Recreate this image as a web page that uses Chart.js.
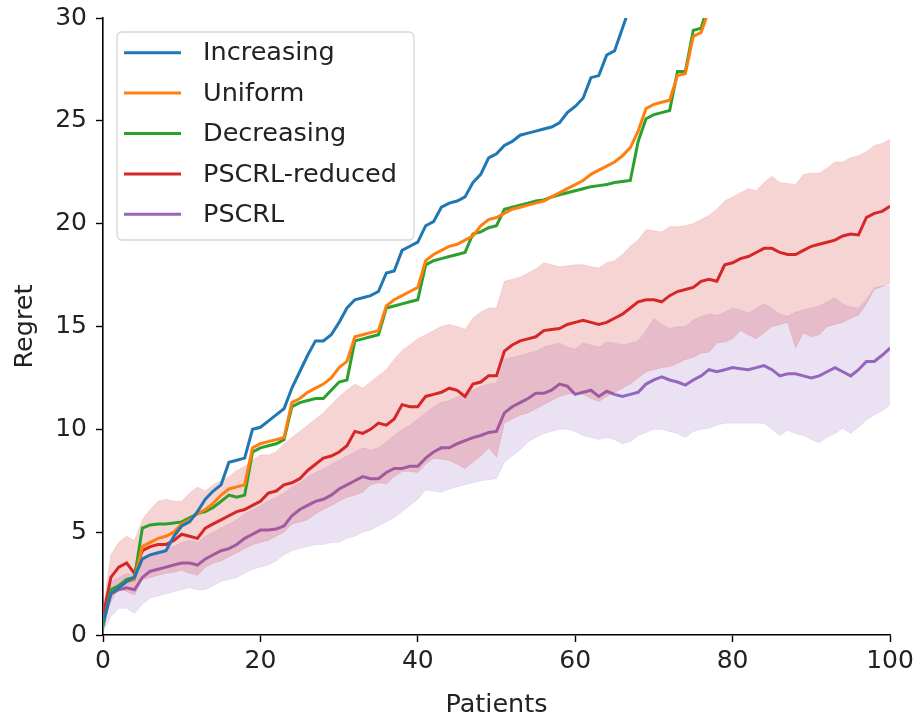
<!DOCTYPE html>
<html>
<head>
<meta charset="utf-8">
<script src="https://cdn.jsdelivr.net/npm/chart.js@4.4.1/dist/chart.umd.min.js"></script>
<style>
  html, body { margin: 0; padding: 0; background: #fff; }
  #wrap { width: 914px; height: 718px; }
</style>
</head>
<body>
<div id="wrap"><canvas id="regretChart" width="914" height="718"></canvas></div>
<script>
// regret per patient (x = 0..100)
const increasing = [0.6, 2.0, 2.3, 2.6, 2.8, 3.7, 3.9, 4.0, 4.1, 4.8, 5.3, 5.5, 6.0, 6.6, 7.0, 7.3, 8.4, 8.5, 8.6, 10.0,
  10.1, 10.4, 10.7, 11.0, 12.0, 12.8, 13.6, 14.3, 14.3, 14.6, 15.2, 15.9, 16.3, 16.4, 16.5, 16.7, 17.6, 17.7, 18.7, 18.9,
  19.1, 19.9, 20.1, 20.8, 21.0, 21.1, 21.3, 22.0, 22.4, 23.2, 23.4, 23.8, 24.0, 24.3, 24.4, 24.5, 24.6, 24.7, 24.9, 25.4,
  25.7, 26.1, 27.1, 27.2, 28.2, 28.4, 29.5, 30.6, 31.5];

const uniform = [0.6, 2.0, 2.3, 2.6, 2.7, 4.3, 4.5, 4.7, 4.8, 5.0, 5.4, 5.6, 5.9, 6.1, 6.4, 6.8, 7.1, 7.2, 7.3, 9.1,
  9.3, 9.4, 9.5, 9.6, 11.3, 11.5, 11.8, 12.0, 12.2, 12.5, 13.0, 13.3, 14.5, 14.6, 14.7, 14.8, 16.0, 16.3, 16.5, 16.7,
  16.9, 18.2, 18.5, 18.7, 18.9, 19.0, 19.2, 19.4, 19.9, 20.2, 20.3, 20.5, 20.7, 20.8, 20.9, 21.0, 21.1, 21.3, 21.5, 21.7,
  21.9, 22.1, 22.4, 22.6, 22.8, 23.0, 23.3, 23.7, 24.5, 25.6, 25.8, 25.9, 26.0, 27.2, 27.3, 29.1, 29.3, 30.4, 31.5];

const decreasing = [0.4, 2.2, 2.4, 2.7, 2.8, 5.2, 5.35, 5.4, 5.4, 5.45, 5.5, 5.7, 5.9, 6.0, 6.2, 6.5, 6.8, 6.7, 6.8, 8.9,
  9.1, 9.2, 9.3, 9.5, 11.1, 11.3, 11.4, 11.5, 11.5, 11.9, 12.3, 12.4, 14.3, 14.4, 14.5, 14.6, 15.9, 16.0, 16.1, 16.2,
  16.3, 18.0, 18.2, 18.3, 18.4, 18.5, 18.6, 19.5, 19.6, 19.8, 19.9, 20.7, 20.8, 20.9, 21.0, 21.1, 21.15, 21.3, 21.4, 21.5,
  21.6, 21.7, 21.8, 21.85, 21.9, 22.0, 22.05, 22.1, 24.0, 25.1, 25.3, 25.4, 25.5, 27.4, 27.4, 29.4, 29.5, 30.8, 32.0];

const pscrlReduced = [0.9, 2.8, 3.3, 3.5, 3.0, 4.1, 4.3, 4.4, 4.4, 4.6, 4.9, 4.8, 4.7, 5.2, 5.4, 5.6, 5.8, 6.0, 6.1, 6.3,
  6.5, 6.9, 7.0, 7.3, 7.4, 7.6, 8.0, 8.3, 8.6, 8.7, 8.9, 9.2, 9.9, 9.8, 10.0, 10.3, 10.2, 10.5, 11.2, 11.1,
  11.1, 11.6, 11.7, 11.8, 12.0, 11.9, 11.6, 12.2, 12.3, 12.6, 12.6, 13.8, 14.1, 14.3, 14.4, 14.5, 14.8, 14.85, 14.9, 15.1,
  15.2, 15.3, 15.2, 15.1, 15.2, 15.4, 15.6, 15.9, 16.2, 16.3, 16.3, 16.2, 16.5, 16.7, 16.8, 16.9, 17.2, 17.3, 17.2, 18.0,
  18.1, 18.3, 18.4, 18.6, 18.8, 18.8, 18.6, 18.5, 18.5, 18.7, 18.9, 19.0, 19.1, 19.2, 19.4, 19.5, 19.45, 20.3, 20.5, 20.6,
  20.85];

const pscrlReducedHigh = [1.2, 3.9, 4.5, 4.8, 4.6, 5.6, 6.1, 6.5, 6.6, 6.5, 6.5, 6.9, 7.2, 7.0, 7.3, 7.5, 7.7, 8.0, 8.2, 8.5,
  8.75, 8.75, 8.9, 9.3, 9.6, 9.9, 10.2, 10.5, 10.8, 11.2, 11.6, 11.9, 12.2, 12.0, 12.3, 12.6, 12.9, 13.4, 13.85, 14.1,
  14.4, 14.6, 14.8, 15.0, 15.1, 15.0, 14.85, 15.4, 15.7, 15.9, 15.9, 17.2, 17.3, 17.4, 17.6, 17.8, 18.1, 18.0, 17.9, 17.95,
  18.0, 18.0, 17.9, 17.85, 18.1, 18.2, 18.5, 18.9, 19.2, 19.7, 19.65, 19.6, 19.85, 19.85, 19.9, 20.0, 20.2, 20.4, 20.7, 21.1,
  21.3, 21.5, 21.7, 21.6, 22.0, 22.3, 22.0, 21.95, 21.9, 22.4, 22.45, 22.45, 22.7, 23.0, 23.0, 23.2, 23.3, 23.5, 23.8, 23.9,
  24.1];

const pscrlReducedLow = [0.5, 1.6, 2.3, 2.1, 1.95, 2.7, 2.8, 2.9, 3.0, 3.05, 3.15, 3.0, 2.9, 3.3, 3.5, 3.6, 3.8, 4.0, 4.2, 4.4,
  4.5, 4.6, 4.8, 5.0, 5.4, 5.5, 5.6, 5.9, 6.1, 6.3, 6.5, 6.7, 6.8, 6.95, 7.3, 7.4, 7.35, 7.7, 7.95, 7.95,
  7.9, 8.3, 8.6, 8.55, 8.5, 8.3, 8.1, 8.4, 8.7, 9.1, 8.65, 10.3, 10.5, 10.7, 10.8, 11.0, 11.2, 11.4, 11.6, 11.7,
  11.75, 11.7, 11.5, 11.35, 11.6, 11.8, 12.0, 12.2, 12.5, 12.8, 12.9, 13.0, 13.05, 13.2, 13.4, 13.5, 13.7, 13.75, 14.2, 14.25,
  14.4, 14.8, 14.6, 14.4, 14.7, 15.0, 15.1, 15.2, 13.95, 14.7, 14.5, 14.6, 15.0, 15.1, 15.2, 15.4, 15.55, 16.1, 16.8, 16.95,
  17.1];

const pscrl = [0.7, 2.0, 2.2, 2.3, 2.2, 2.8, 3.1, 3.2, 3.3, 3.4, 3.5, 3.5, 3.4, 3.7, 3.9, 4.1, 4.2, 4.4, 4.7, 4.9,
  5.1, 5.1, 5.15, 5.3, 5.8, 6.1, 6.3, 6.5, 6.6, 6.8, 7.1, 7.3, 7.5, 7.7, 7.6, 7.6, 7.9, 8.1, 8.1, 8.2,
  8.2, 8.6, 8.9, 9.1, 9.1, 9.3, 9.45, 9.6, 9.7, 9.85, 9.9, 10.8, 11.1, 11.3, 11.5, 11.75, 11.75, 11.9, 12.2, 12.1,
  11.7, 11.8, 11.9, 11.6, 11.85, 11.7, 11.6, 11.7, 11.8, 12.2, 12.4, 12.55, 12.4, 12.3, 12.15, 12.4, 12.6, 12.9, 12.8, 12.9,
  13.0, 12.95, 12.9, 13.0, 13.1, 12.9, 12.6, 12.7, 12.7, 12.6, 12.5, 12.6, 12.8, 13.0, 12.8, 12.6, 12.9, 13.3, 13.3, 13.6,
  13.95];

const pscrlHigh = [1.0, 2.6, 2.8, 3.0, 2.9, 3.6, 3.9, 4.0, 4.2, 4.3, 4.5, 4.6, 4.5, 4.8, 5.0, 5.2, 5.4, 5.6, 5.9, 6.1,
  6.3, 6.5, 6.7, 6.9, 7.2, 7.4, 7.7, 7.9, 8.1, 8.3, 8.5, 8.7, 8.9, 9.1, 9.0, 9.1, 9.4, 9.7, 10.0, 10.2,
  10.5, 10.8, 11.1, 11.3, 11.4, 11.6, 11.7, 11.9, 12.1, 12.2, 12.25, 13.4, 13.5, 13.6, 13.7, 13.8, 14.0, 14.1, 14.2, 14.0,
  13.9, 14.2, 14.1, 14.0, 14.25, 14.2, 14.1, 14.2, 14.3, 14.8, 15.4, 15.1, 14.9, 15.0, 15.0, 15.3, 15.5, 15.6, 15.55, 15.7,
  15.9, 15.8, 15.65, 15.9, 16.1, 15.9, 15.6, 15.5, 15.7, 15.8, 15.9, 16.0, 16.2, 16.4, 16.1, 15.95, 15.9, 16.3, 16.9, 16.95,
  17.0];

const pscrlLow = [0.1, 0.9, 1.3, 1.3, 1.05, 1.5, 1.8, 1.9, 2.0, 2.1, 2.2, 2.3, 2.2, 2.2, 2.4, 2.6, 2.7, 2.8, 3.0, 3.2,
  3.3, 3.4, 3.6, 3.9, 4.1, 4.2, 4.3, 4.4, 4.4, 4.5, 4.5, 4.7, 4.8, 5.0, 5.1, 5.3, 5.5, 5.7, 6.0, 6.3,
  6.6, 7.05, 7.0, 6.95, 7.1, 7.2, 7.3, 7.4, 7.5, 7.55, 7.6, 8.4, 8.7, 9.0, 9.4, 9.6, 9.8, 9.9, 10.0, 10.0,
  9.9, 9.7, 9.6, 9.5, 9.6, 9.5, 9.3, 9.4, 9.7, 9.85, 10.0, 10.0, 9.9, 9.8, 9.6, 9.9, 10.0, 10.05, 10.2, 10.3,
  10.3, 10.3, 10.3, 10.3, 10.3, 10.0, 9.7, 9.95, 9.8, 9.7, 9.5, 9.35, 9.6, 9.8, 10.05, 9.8, 10.1, 10.45, 10.7, 10.9,
  11.2];

const seriesNames = ["Increasing", "Uniform", "Decreasing", "PSCRL-reduced", "PSCRL"];
const seriesColors = ["#1f77b4", "#ff7f0e", "#2ca02c", "#d62728", "#9467bd"];
const xTicks = [0, 20, 40, 60, 80, 100];
const yTicks = [0, 5, 10, 15, 20, 25, 30];

const FONT = "'DejaVu Sans', 'Liberation Sans', sans-serif";
const TEXT = "#222";

function pts(values) {
  return values.map((v, i) => ({ x: i, y: v }));
}

function meanLine(label, values, color) {
  return {
    label, data: pts(values), borderColor: color, backgroundColor: color,
    borderWidth: 3, pointRadius: 0, tension: 0, fill: false, clip: 0
  };
}

function bandEdge(label, values, rgb, fillTo) {
  return {
    label, data: pts(values),
    borderColor: "rgba(" + rgb + ",0.12)",
    backgroundColor: "rgba(" + rgb + ",0.2)",
    borderWidth: 1, pointRadius: 0, tension: 0, clip: 0,
    fill: fillTo
  };
}

// matplotlib-like legend box in the upper left of the plot
const boxLegend = {
  id: "boxLegend",
  afterDraw(chart) {
    const { ctx, chartArea } = chart;
    const left = chartArea.left + 14;
    const top = chartArea.top + 14;
    ctx.save();
    ctx.beginPath();
    ctx.roundRect(left, top, 297, 208, 5);
    ctx.fillStyle = "rgba(255,255,255,0.8)";
    ctx.fill();
    ctx.strokeStyle = "#d6d6d6";
    ctx.lineWidth = 1.3;
    ctx.stroke();
    ctx.font = "25.5px " + FONT;
    ctx.textBaseline = "middle";
    ctx.textAlign = "left";
    seriesNames.forEach((name, i) => {
      const y = top + 20.7 + i * 40.4;
      ctx.beginPath();
      ctx.moveTo(left + 7, y);
      ctx.lineTo(left + 64, y);
      ctx.strokeStyle = seriesColors[i];
      ctx.lineWidth = 3;
      ctx.stroke();
      ctx.fillStyle = TEXT;
      ctx.fillText(name, left + 86, y + 1);
    });
    ctx.restore();
  }
};

const ctx = document.getElementById("regretChart").getContext("2d");

new Chart(ctx, {
  type: "line",
  data: {
    datasets: [
      meanLine(seriesNames[0], increasing, seriesColors[0]),
      meanLine(seriesNames[1], uniform, seriesColors[1]),
      meanLine(seriesNames[2], decreasing, seriesColors[2]),
      meanLine(seriesNames[3], pscrlReduced, seriesColors[3]),
      bandEdge("PSCRL-reduced high", pscrlReducedHigh, "214,39,40", "+1"),
      bandEdge("PSCRL-reduced low", pscrlReducedLow, "214,39,40", false),
      meanLine(seriesNames[4], pscrl, seriesColors[4]),
      bandEdge("PSCRL high", pscrlHigh, "148,103,189", "+1"),
      bandEdge("PSCRL low", pscrlLow, "148,103,189", false)
    ]
  },
  options: {
    responsive: false,
    animation: false,
    layout: { padding: { top: 18, right: 24, left: 0, bottom: 0 } },
    plugins: {
      legend: { display: false },
      tooltip: { enabled: false },
      filler: { propagate: false }
    },
    scales: {
      x: {
        type: "linear", min: 0, max: 100,
        afterBuildTicks: s => { s.ticks = xTicks.map(v => ({ value: v })); },
        afterFit: s => { s.height = 83; s.paddingLeft = 0; s.paddingRight = 0; },
        grid: { drawOnChartArea: false, tickLength: 7, tickColor: "#000", tickWidth: 1.4 },
        border: { display: true, color: "#000", width: 1.6 },
        ticks: { color: TEXT, font: { family: FONT, size: 25 }, padding: 4, maxRotation: 0 },
        title: { display: true, text: "Patients", color: TEXT, font: { family: FONT, size: 25.5 }, padding: { top: 0, bottom: -3 } }
      },
      y: {
        type: "linear", min: 0, max: 30,
        afterBuildTicks: s => { s.ticks = yTicks.map(v => ({ value: v })); },
        afterFit: s => { s.width = 103; s.paddingTop = 0; s.paddingBottom = 0; },
        grid: { drawOnChartArea: false, tickLength: 7, tickColor: "#000", tickWidth: 1.4 },
        border: { display: true, color: "#000", width: 1.6 },
        ticks: { color: TEXT, font: { family: FONT, size: 25 }, padding: 9 },
        title: { display: true, text: "Regret", color: TEXT, font: { family: FONT, size: 25.5 }, padding: { top: 10, bottom: 0 } }
      }
    }
  },
  plugins: [boxLegend]
});
</script>
</body>
</html>
